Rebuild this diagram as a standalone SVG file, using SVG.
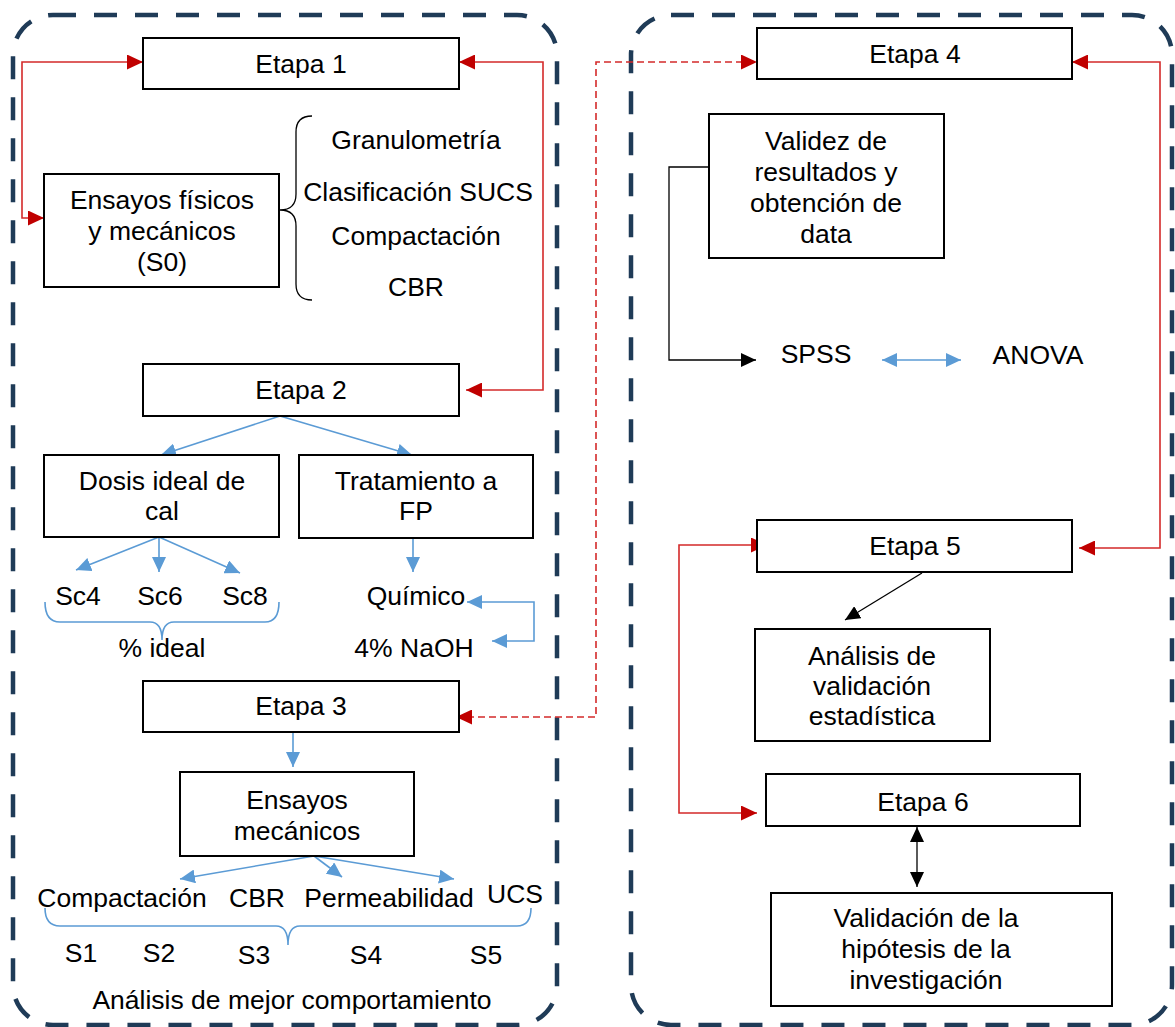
<svg xmlns="http://www.w3.org/2000/svg" width="1175" height="1027" viewBox="0 0 1175 1027">
<style>
text{font-family:"Liberation Sans",Arial,sans-serif;font-size:26.5px;fill:#000;text-anchor:middle}
.box{fill:#fff;stroke:#000;stroke-width:2}
.cont{fill:none;stroke:#1f3b57;stroke-width:4.5;stroke-dasharray:23 18}
.red{fill:none;stroke:#d42a2a;stroke-width:1.6}
.redd{fill:none;stroke:#d42a2a;stroke-width:1.6;stroke-dasharray:7 4}
.blue{fill:none;stroke:#5b9bd5;stroke-width:1.6}
.blk{fill:none;stroke:#000;stroke-width:1.3}
</style>
<defs>
<marker id="ar" markerUnits="userSpaceOnUse" markerWidth="17" markerHeight="15" refX="16" refY="7.5" orient="auto-start-reverse"><path d="M0,0 L16,7.5 L0,15 z" fill="#c00000"/></marker>
<marker id="ab" markerUnits="userSpaceOnUse" markerWidth="16" markerHeight="14" refX="15" refY="7" orient="auto-start-reverse"><path d="M0,0 L15,7 L0,14 z" fill="#5b9bd5"/></marker>
<marker id="ak" markerUnits="userSpaceOnUse" markerWidth="16" markerHeight="14" refX="15" refY="7" orient="auto-start-reverse"><path d="M0,0 L15,7 L0,14 z" fill="#000"/></marker>
</defs>

<g id="containers">
<rect class="cont" x="13" y="15" width="544" height="1010" rx="40"/>
<rect class="cont" x="631" y="15" width="541" height="1010" rx="40"/>
</g>

<g id="connectors">
<path class="red" d="M143,62 H22 V218 H44" marker-start="url(#ar)" marker-end="url(#ar)"/>
<path class="red" d="M459,62 H543 V390 H466" marker-start="url(#ar)" marker-end="url(#ar)"/>
<path class="redd" d="M456,717 H596 V62 H757" marker-start="url(#ar)" marker-end="url(#ar)"/>
<path class="red" d="M1072,62 H1160 V548 H1079" marker-start="url(#ar)" marker-end="url(#ar)"/>
<path class="red" d="M767,545 H679 V813 H757" marker-start="url(#ar)" marker-end="url(#ar)"/>
<path class="blue" d="M280,416 L161,455" marker-end="url(#ab)"/>
<path class="blue" d="M280,416 L412,455" marker-end="url(#ab)"/>
<path class="blue" d="M159,537 L76,570" marker-end="url(#ab)"/>
<path class="blue" d="M159,537 L159,572" marker-end="url(#ab)"/>
<path class="blue" d="M159,537 L240,573" marker-end="url(#ab)"/>
<path class="blue" d="M413,538 L413,572" marker-end="url(#ab)"/>
<path class="blue" d="M467,602 H534 V641 H492" marker-start="url(#ab)" marker-end="url(#ab)"/>
<path class="blue" d="M293,732 L293,767" marker-end="url(#ab)"/>
<path class="blue" d="M314,856 L180,879" marker-end="url(#ab)"/>
<path class="blue" d="M314,856 L342,877" marker-end="url(#ab)"/>
<path class="blue" d="M314,856 L454,879" marker-end="url(#ab)"/>
<path class="blue" d="M882,360 L961,360" marker-start="url(#ab)" marker-end="url(#ab)"/>
<path class="blk" d="M709,167 H669 V360 H756" marker-end="url(#ak)"/>
<path class="blk" d="M922,573 L845,620" marker-end="url(#ak)"/>
<path class="blk" d="M917,827 L917,887" marker-start="url(#ak)" marker-end="url(#ak)"/>
<path class="blk" d="M312,116 Q296,116 296,132 V194 Q296,210 280,210 Q296,210 296,226 V284 Q296,300 312,300"/>
<path class="blue" d="M45,602 Q45,622 60,622 H150 Q162,622 162,640 Q162,622 174,622 H265 Q279,622 279,602"/>
<path class="blue" d="M45,908 Q45,926 60,926 H276 Q288,926 288,945 Q288,926 300,926 H517 Q531,926 531,908"/>
</g>

<g id="etapa1"><rect class="box" x="143" y="38" width="316" height="51"/><text x="301" y="73">Etapa 1</text></g>
<g id="ensayos-fisicos"><rect class="box" x="44" y="174" width="235" height="113"/><text x="162" y="209">Ensayos físicos</text><text x="162" y="240">y mecánicos</text><text x="162" y="271">(S0)</text></g>
<g id="lista1"><text x="416" y="149">Granulometría</text><text x="418" y="201">Clasificación SUCS</text><text x="416" y="245">Compactación</text><text x="416" y="296">CBR</text></g>
<g id="etapa2"><rect class="box" x="143" y="364" width="316" height="52"/><text x="301" y="399">Etapa 2</text></g>
<g id="dosis"><rect class="box" x="44" y="455" width="235" height="82"/><text x="162" y="490">Dosis ideal de</text><text x="162" y="520">cal</text></g>
<g id="tratamiento"><rect class="box" x="299" y="455" width="234" height="83"/><text x="416" y="490">Tratamiento a</text><text x="416" y="520">FP</text></g>
<g id="sc"><text x="78" y="605">Sc4</text><text x="160" y="605">Sc6</text><text x="245" y="605">Sc8</text><text x="162" y="657">% ideal</text></g>
<g id="quimico"><text x="416" y="605">Químico</text><text x="414" y="657">4% NaOH</text></g>
<g id="etapa3"><rect class="box" x="143" y="681" width="316" height="51"/><text x="301" y="715">Etapa 3</text></g>
<g id="ensayos-mec"><rect class="box" x="180" y="772" width="234" height="84"/><text x="297" y="809">Ensayos</text><text x="297" y="840">mecánicos</text></g>
<g id="lista3"><text x="122" y="907">Compactación</text><text x="257" y="907">CBR</text><text x="389" y="907">Permeabilidad</text><text x="515" y="903">UCS</text></g>
<g id="s"><text x="81" y="962">S1</text><text x="159" y="962">S2</text><text x="254" y="964">S3</text><text x="366" y="964">S4</text><text x="486" y="964">S5</text></g>
<g id="analisis-mejor"><text x="292" y="1009">Análisis de mejor comportamiento</text></g>

<g id="etapa4"><rect class="box" x="757" y="28" width="315" height="51"/><text x="915" y="63">Etapa 4</text></g>
<g id="validez"><rect class="box" x="709" y="114" width="235" height="144"/><text x="826" y="150">Validez de</text><text x="826" y="181">resultados y</text><text x="826" y="212">obtención de</text><text x="826" y="243">data</text></g>
<g id="spss"><text x="816" y="363">SPSS</text></g>
<g id="anova"><text x="1038" y="364">ANOVA</text></g>
<g id="etapa5"><rect class="box" x="757" y="520" width="315" height="52"/><text x="915" y="555">Etapa 5</text></g>
<g id="analisis-val"><rect class="box" x="755" y="629" width="235" height="112"/><text x="872" y="665">Análisis de</text><text x="872" y="695">validación</text><text x="872" y="725">estadística</text></g>
<g id="etapa6"><rect class="box" x="766" y="774" width="314" height="52"/><text x="923" y="811">Etapa 6</text></g>
<g id="validacion"><rect class="box" x="771" y="893" width="341" height="113"/><text x="926" y="927">Validación de la</text><text x="926" y="958">hipótesis de la</text><text x="926" y="989">investigación</text></g>
</svg>
